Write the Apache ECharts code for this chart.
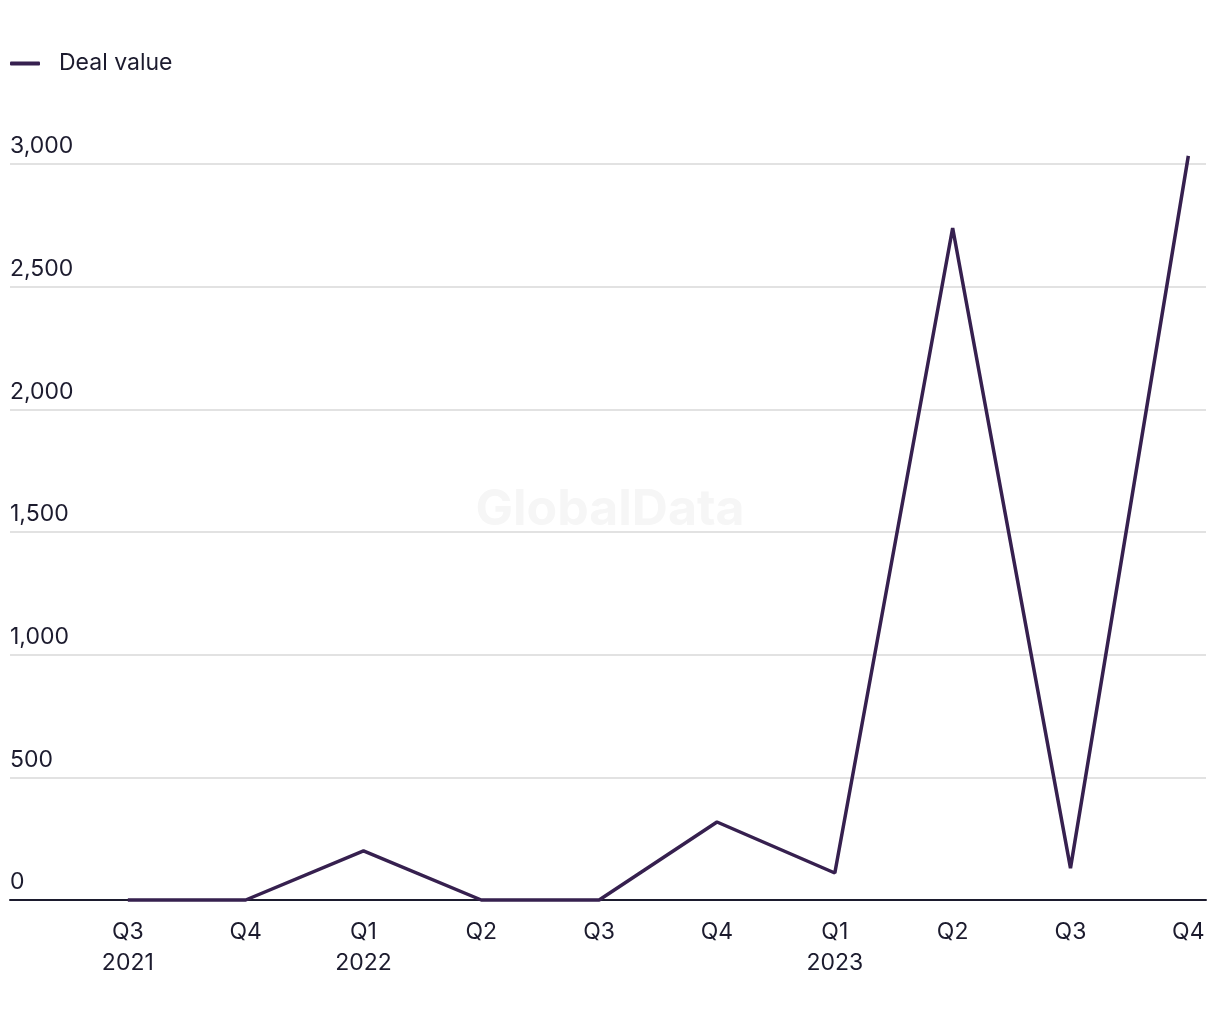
<!DOCTYPE html>
<html>
<head>
<meta charset="utf-8">
<script src="https://cdn.jsdelivr.net/npm/echarts@6/dist/echarts.min.js"></script>
<style>html,body{margin:0;padding:0;background:#fff}#c{width:1220px;height:1020px}</style>
</head>
<body>
<div id="c"></div>
<script>
const quarters = ['Q3', 'Q4', 'Q1', 'Q2', 'Q3', 'Q4', 'Q1', 'Q2', 'Q3', 'Q4'];
const years = ['2021', '', '2022', '', '', '', '2023', '', '', ''];
const dealValue = [0, 0, 200, 0, 0, 318, 110, 2739, 130, 3033];
const yTicks = [0, 500, 1000, 1500, 2000, 2500, 3000];

const font = 'Inter, "Noto Sans", sans-serif';
const textColor = '#1c1b2e';
const lineColor = '#36204f';

const chart = echarts.init(document.getElementById('c'));
chart.setOption({
  animation: false,
  graphic: [{
    type: 'text', left: 'center', top: 485, z: 0,
    style: { text: 'GlobalData', font: 'bold 50px ' + font, fill: '#f6f6f6' }
  }],
  legend: {
    left: 10, top: 52, padding: 0, icon: 'roundRect', itemWidth: 30, itemHeight: 4,
    textStyle: { fontFamily: font, fontSize: 23, color: textColor, padding: [0, 0, 0, 14] },
    data: ['Deal value']
  },
  grid: { left: 10, right: 14, top: 164, bottom: 120, containLabel: false },
  xAxis: {
    type: 'value', min: -1, max: 9.15, interval: 1,
    axisLine: { show: true, onZero: false, lineStyle: { color: textColor, width: 2 } },
    axisTick: { show: false },
    splitLine: { show: false },
    axisLabel: {
      margin: 17, lineHeight: 31, fontFamily: font, fontSize: 23, color: textColor,
      showMinLabel: false, showMaxLabel: false,
      formatter: function (v) {
        const i = Math.round(v);
        if (Math.abs(v - i) > 1e-6 || i < 0 || i >= quarters.length) return '';
        return years[i] ? quarters[i] + '\n' + years[i] : quarters[i];
      }
    }
  },
  yAxis: {
    type: 'value', min: 0, max: 3000, interval: 500,
    axisLine: { show: false }, axisTick: { show: false },
    splitLine: { lineStyle: { color: '#d9d9d9', width: 1.5 } },
    axisLabel: {
      inside: true, margin: 0, verticalAlign: 'bottom', padding: [0, 0, 6, 0],
      fontFamily: font, fontSize: 23, color: textColor,
      formatter: function (v) { return yTicks.indexOf(v) >= 0 ? v.toLocaleString('en-US') : ''; }
    }
  },
  series: [{
    name: 'Deal value', type: 'line', showSymbol: false, symbol: 'none', clip: false,
    lineStyle: { color: lineColor, width: 3.5 }, itemStyle: { color: lineColor },
    data: dealValue.map((v, i) => [i, v]), z: 3
  }]
});
</script>
</body>
</html>
